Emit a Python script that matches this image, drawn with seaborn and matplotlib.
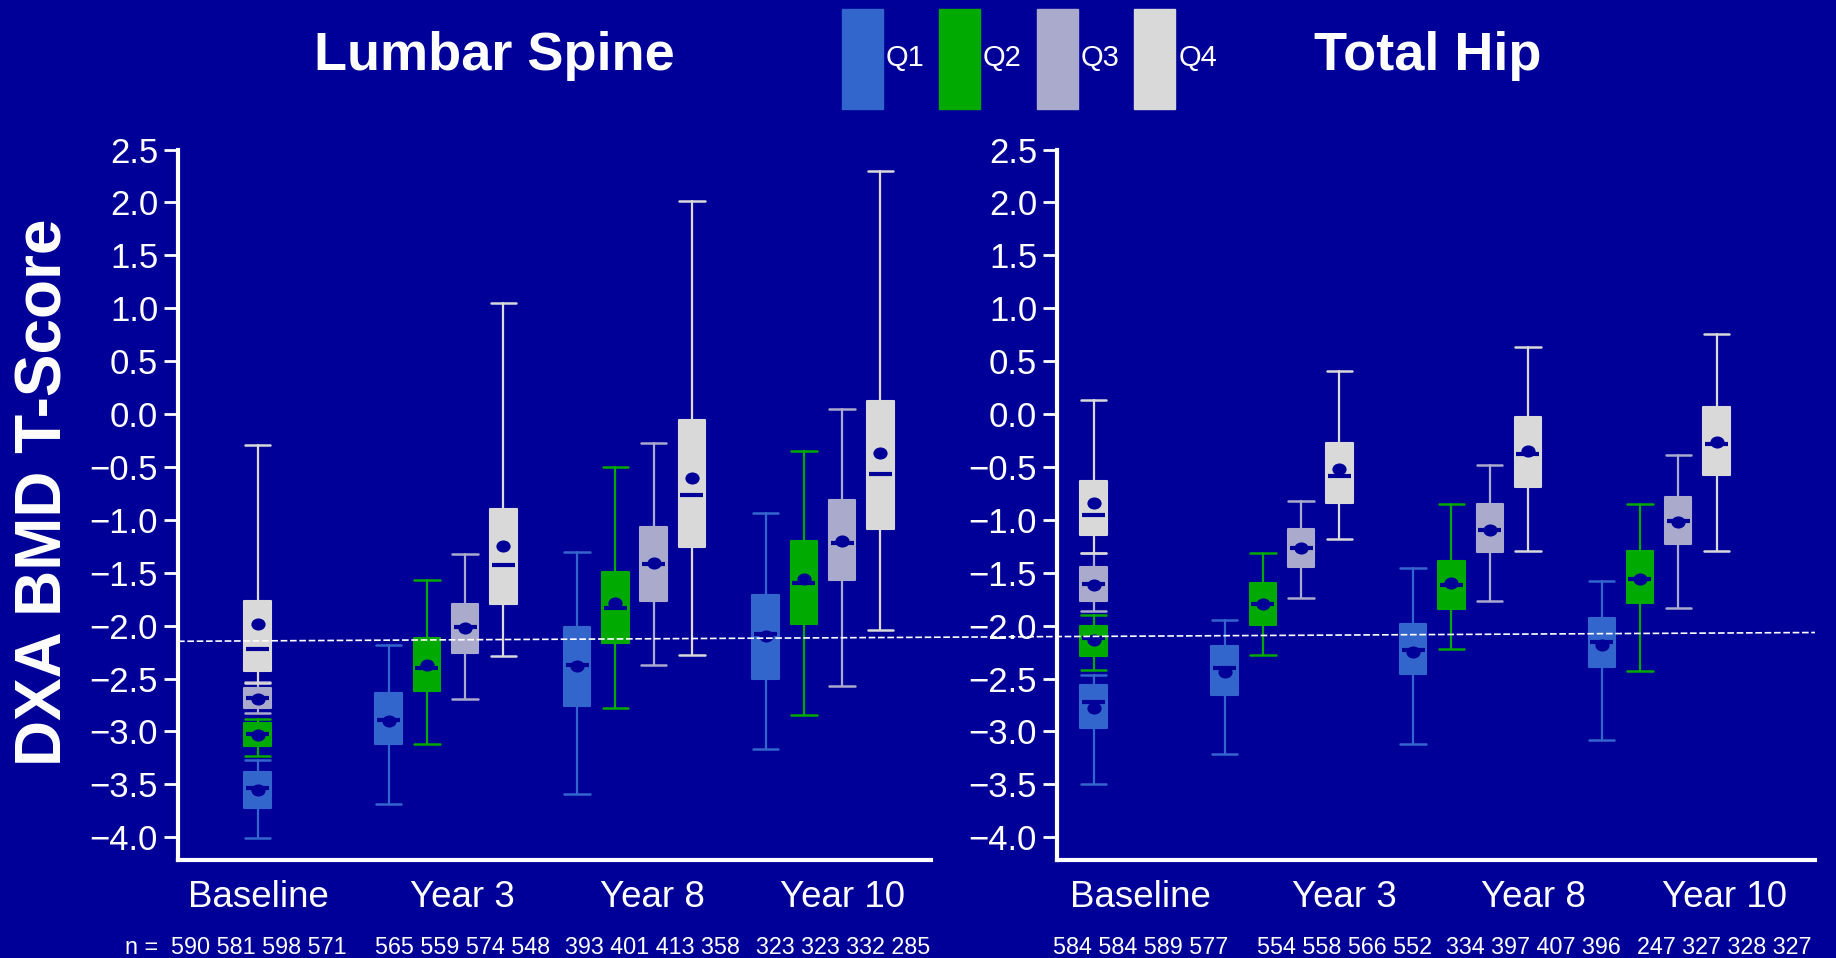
import matplotlib
matplotlib.use("Agg")
import numpy as np
import pandas as pd
import seaborn as sns
import matplotlib.pyplot as plt
from matplotlib.patches import Patch
from matplotlib.lines import Line2D
from matplotlib.path import Path
from matplotlib.transforms import Affine2D

# ---------------------------------------------------------------- data
VISITS = ["Baseline", "Year 3", "Year 8", "Year 10"]
QUARTILES = ["Q1", "Q2", "Q3", "Q4"]
Q_COLORS = ["#3366CC", "#00AA00", "#AAAACC", "#D9D9D9"]

# Lumbar spine T-scores: rows = quartile Q1..Q4, columns = visit
spine_low = [[-4.01, -3.69, -3.59, -3.17], [-3.23, -3.12, -2.78, -2.84],
             [-2.83, -2.69, -2.37, -2.57], [-2.54, -2.29, -2.28, -2.04]]
spine_q1 = [[-3.72, -3.12, -2.76, -2.50], [-3.14, -2.62, -2.16, -1.98],
            [-2.78, -2.26, -1.77, -1.57], [-2.43, -1.80, -1.26, -1.09]]
spine_med = [[-3.53, -2.89, -2.37, -2.08], [-3.02, -2.40, -1.83, -1.60],
             [-2.68, -2.01, -1.42, -1.22], [-2.22, -1.43, -0.77, -0.57]]
spine_mean = [[-3.55, -2.90, -2.38, -2.10], [-3.03, -2.37, -1.79, -1.56],
              [-2.69, -2.02, -1.41, -1.20], [-1.98, -1.25, -0.60, -0.37]]
spine_q3 = [[-3.38, -2.64, -2.01, -1.71], [-2.92, -2.12, -1.49, -1.20],
            [-2.59, -1.80, -1.07, -0.81], [-1.77, -0.90, -0.06, 0.12]]
spine_high = [[-3.27, -2.18, -1.30, -0.94], [-2.88, -1.57, -0.50, -0.35],
              [-2.53, -1.32, -0.27, 0.05], [-0.29, 1.05, 2.01, 2.30]]
# subjects per visit (Q1..Q4)
spine_n = [[590, 581, 598, 571], [565, 559, 574, 548],
           [393, 401, 413, 358], [323, 323, 332, 285]]

# Total hip T-scores: rows = quartile Q1..Q4, columns = visit
hip_low = [[-3.50, -3.21, -3.12, -3.08], [-2.42, -2.28, -2.22, -2.43],
           [-1.86, -1.74, -1.77, -1.83], [-1.31, -1.18, -1.29, -1.29]]
hip_q1 = [[-2.97, -2.66, -2.46, -2.39], [-2.29, -1.99, -1.84, -1.79],
          [-1.77, -1.45, -1.30, -1.23], [-1.14, -0.84, -0.69, -0.58]]
hip_med = [[-2.72, -2.40, -2.23, -2.15], [-2.12, -1.80, -1.62, -1.56],
           [-1.61, -1.27, -1.10, -1.01], [-0.95, -0.59, -0.38, -0.28]]
hip_mean = [[-2.78, -2.44, -2.25, -2.18], [-2.14, -1.80, -1.60, -1.56],
            [-1.62, -1.27, -1.10, -1.02], [-0.84, -0.52, -0.35, -0.26]]
hip_q3 = [[-2.56, -2.19, -1.98, -1.93], [-2.00, -1.60, -1.39, -1.29],
          [-1.45, -1.09, -0.85, -0.78], [-0.63, -0.27, -0.03, 0.07]]
hip_high = [[-2.47, -1.95, -1.46, -1.58], [-1.90, -1.31, -0.85, -0.85],
            [-1.31, -0.82, -0.48, -0.39], [0.13, 0.41, 0.63, 0.76]]
hip_n = [[584, 584, 589, 577], [554, 558, 566, 552],
         [334, 397, 407, 396], [247, 327, 328, 327]]

# dashed reference level at the left and right ends of the figure
ref_line = [-2.148, -2.065]

Y_TICKS = [-4.0, -3.5, -3.0, -2.5, -2.0, -1.5, -1.0, -0.5, 0.0, 0.5, 1.0, 1.5, 2.0, 2.5]

# ---------------------------------------------------------------- style
NAVY = "#000099"
sns.set_theme(style="ticks", rc={
    "figure.facecolor": NAVY, "axes.facecolor": NAVY, "savefig.facecolor": NAVY,
    "axes.edgecolor": "white", "text.color": "white", "axes.labelcolor": "white",
    "xtick.color": "white", "ytick.color": "white",
})
plt.rcParams["font.family"] = ["Liberation Sans", "DejaVu Sans"]

DODGE = 0.203
BOX_W = 0.14
CAP_W = 0.135
MED_W = 0.122
YMIN, YMAX = -4.215, 2.5
ELLIPSE = Path.unit_circle().transformed(Affine2D().scale(1.0, 0.85))

W, H = 1836, 958
fig = plt.figure(figsize=(W / 100, H / 100), dpi=100)


def px_axes(x0, x1, ytop, ybot):
    return [x0 / W, 1 - ybot / H, (x1 - x0) / W, (ybot - ytop) / H]


ax_s = fig.add_axes(px_axes(178, 931, 149.5, 860))
ax_h = fig.add_axes(px_axes(1057, 1815, 149.5, 860))


def positions(qi):
    return [0.0 if vi == 0 else vi + (qi - 1.5) * DODGE for vi in range(len(VISITS))]


def draw_panel(ax, low, q1, med, mean, q3, high, counts, xlim, label_x, n_prefix_x=None):
    rows = []
    for qi, color in enumerate(Q_COLORS):
        pos = positions(qi)
        stats = [dict(whislo=low[qi][vi], q1=q1[qi][vi], med=med[qi][vi],
                      q3=q3[qi][vi], whishi=high[qi][vi], fliers=[])
                 for vi in range(len(VISITS))]
        ax.bxp(stats, positions=pos, widths=BOX_W, capwidths=CAP_W,
               patch_artist=True, showfliers=False, manage_ticks=False,
               boxprops=dict(facecolor=color, edgecolor=color, linewidth=1.5,
                             joinstyle="round"),
               whiskerprops=dict(color=color, linewidth=1.6),
               capprops=dict(color=color, linewidth=1.8),
               medianprops=dict(visible=False))
        for vi in range(len(VISITS)):
            rows.append(dict(x=pos[vi], median=med[qi][vi], mean=mean[qi][vi],
                             quartile=QUARTILES[qi]))
    df = pd.DataFrame(rows)
    ax.hlines(df["median"], df["x"] - MED_W / 2, df["x"] + MED_W / 2,
              colors=NAVY, linewidth=3.0, zorder=4)
    sns.scatterplot(data=df, x="x", y="mean", marker=ELLIPSE, s=105, color=NAVY,
                    linewidth=0, legend=False, ax=ax, zorder=5)
    ax.set(xlabel="", ylabel="")
    ax.set_xlim(*xlim)
    ax.set_ylim(YMIN, YMAX)

    ax.set_yticks(Y_TICKS, labels=[f"{t:.1f}".replace("-", "\u2212") for t in Y_TICKS])
    ax.tick_params(axis="y", length=10, width=2.0, pad=4.3, labelsize=25,
                   colors="white", direction="out")
    ax.set_xticks(label_x, labels=VISITS)
    ax.tick_params(axis="x", length=0, pad=34, labelsize=26.5, colors="white")
    for lbl in ax.get_xticklabels():
        lbl.set_verticalalignment("baseline")

    sns.despine(ax=ax)
    for side in ("left", "bottom"):
        ax.spines[side].set_color("white")
        ax.spines[side].set_linewidth(3.0)

    for vi, x in enumerate(label_x):
        ax.annotate(" ".join(str(c) for c in counts[vi]), xy=(x, 0),
                    xycoords=("data", "axes fraction"), xytext=(0, -67.5),
                    textcoords="offset points", ha="center", va="baseline",
                    fontsize=16.8, color="white", annotation_clip=False)
    if n_prefix_x is not None:
        ax.annotate("n =", xy=(n_prefix_x, 0), xycoords=("data", "axes fraction"),
                    xytext=(0, -67.5), textcoords="offset points", ha="right",
                    va="baseline", fontsize=16.8, color="white",
                    annotation_clip=False)


draw_panel(ax_s, spine_low, spine_q1, spine_med, spine_mean, spine_q3, spine_high,
           spine_n, xlim=(-0.422, 3.573), label_x=[0.006, 1.087, 2.096, 3.106],
           n_prefix_x=-0.53)
draw_panel(ax_h, hip_low, hip_q1, hip_med, hip_mean, hip_q3, hip_high,
           hip_n, xlim=(-0.194, 3.827), label_x=[0.248, 1.332, 2.335, 3.348])

# panel titles and shared y label
fig.text(494 / W, 1 - 70 / H, "Lumbar Spine", ha="center", va="baseline",
         fontsize=39, fontweight="bold", color="white")
fig.text(1428 / W, 1 - 70 / H, "Total Hip", ha="center", va="baseline",
         fontsize=39, fontweight="bold", color="white")
fig.text(62 / W, 1 - 492 / H, "DXA BMD T-Score", rotation=90, rotation_mode="anchor",
         ha="center", va="baseline", fontsize=46, fontweight="bold", color="white")

# quartile legend
handles = [Patch(facecolor=c, edgecolor=c, label=q) for q, c in zip(QUARTILES, Q_COLORS)]
fig.legend(handles=handles, loc="upper left", bbox_to_anchor=(842 / W, 1 - 9 / H),
           ncol=4, frameon=False, handlelength=1.40, handleheight=4.89,
           handletextpad=0.1, columnspacing=0.51, borderpad=0, borderaxespad=0,
           labelcolor="white", prop=dict(size=21))

# dashed reference line spanning both panels
p0 = ax_s.transData.transform((ax_s.get_xlim()[0], ref_line[0]))
p1 = ax_h.transData.transform((ax_h.get_xlim()[1], ref_line[1]))
(fx0, fy0), (fx1, fy1) = fig.transFigure.inverted().transform([p0, p1])
fig.add_artist(Line2D([fx0, fx1], [fy0, fy1], transform=fig.transFigure,
                      color="white", linewidth=1.2, linestyle=(0, (4.0, 1.6)),
                      zorder=5))

fig.savefig("out.png", dpi=100, facecolor=NAVY)
